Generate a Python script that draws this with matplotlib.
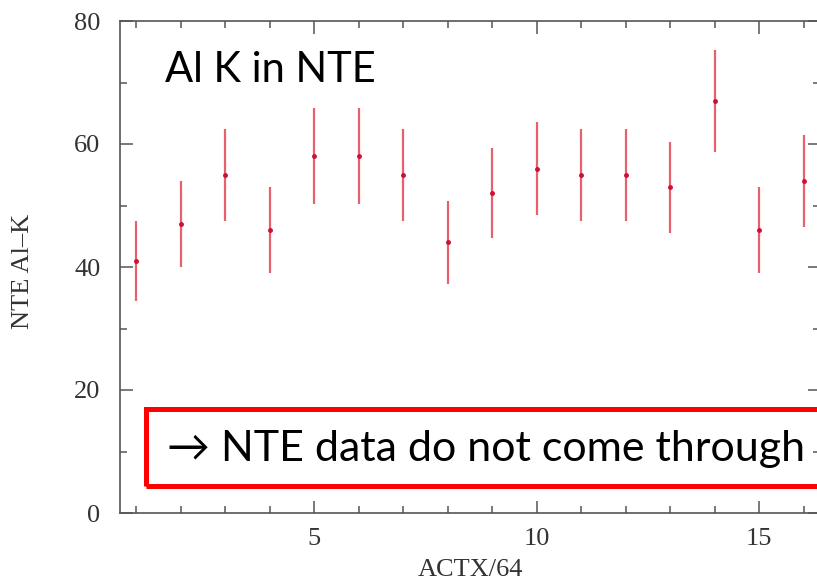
import numpy as np
import matplotlib
matplotlib.use("Agg")
import matplotlib.pyplot as plt
from matplotlib.ticker import MultipleLocator
from matplotlib.patches import Rectangle

# values
actx = [1, 2, 3, 4, 5, 6, 7, 8, 9, 10, 11, 12, 13, 14, 15, 16]
nte_alk = [41, 47, 55, 46, 58, 58, 55, 44, 52, 56, 55, 55, 53, 67, 46, 54]
err = [6.5, 7.0, 7.5, 7.0, 7.8, 7.8, 7.5, 6.8, 7.3, 7.6, 7.5, 7.5, 7.4, 8.3, 7.0, 7.5]

serif = ["Liberation Serif", "DejaVu Serif"]
sans = ["Lato", "DejaVu Sans"]
axcol = "#555555"
txtcol = "#333333"

fig = plt.figure(figsize=(8.17, 5.83), dpi=100)
ax = fig.add_axes([120 / 817, 70 / 583, 700 / 817, 492 / 583])

ax.errorbar(actx, nte_alk, yerr=err, fmt="o", color="#cc1133", ms=2.5,
            ecolor="#e8606e", elinewidth=1.6, capsize=0)

ax.set_xlim(0.64, 16.37)
ax.set_ylim(0, 80)
ax.xaxis.set_major_locator(MultipleLocator(5))
ax.xaxis.set_minor_locator(MultipleLocator(1))
ax.yaxis.set_major_locator(MultipleLocator(20))
ax.yaxis.set_minor_locator(MultipleLocator(10))
ax.tick_params(which="both", direction="in", top=True, right=True, color=axcol, width=1.1)
ax.tick_params(which="major", length=9)
ax.tick_params(which="minor", length=5)
ax.tick_params(axis="y", which="major", pad=14, labelsize=19, labelcolor=txtcol)
ax.tick_params(axis="x", which="major", pad=11, labelsize=19, labelcolor=txtcol)
for lab in ax.get_xticklabels() + ax.get_yticklabels():
    lab.set_family(serif)
for sp in ax.spines.values():
    sp.set_color(axcol)
    sp.set_linewidth(1.2)

ax.set_xlabel("ACTX/64", family=serif, fontsize=19, color=txtcol, labelpad=6)
ax.yaxis.set_label_coords(34 / 817, 0.5, transform=fig.transFigure)
ax.set_ylabel("NTE Al\u2013K", family=serif, fontsize=19, color=txtcol)
ax.yaxis.label.set_y(1 - 271 / 583)

fig.text(165 / 817, 1 - 70 / 583, "Al K in NTE", family=sans,
         fontsize=30, color="black", va="center", ha="left")

box = Rectangle((145.5 / 817, 1 - 486 / 583), 720 / 817, 77 / 583,
                transform=fig.transFigure, fill=False, edgecolor="#ff0000",
                linewidth=3.6, joinstyle="miter", clip_on=False)
fig.patches.append(box)
fig.text(167 / 817, 1 - 449 / 583, "\u2192 NTE data do not come through",
         family=sans, fontsize=31, color="black", va="center", ha="left")

fig.savefig("out.png", dpi=100)
